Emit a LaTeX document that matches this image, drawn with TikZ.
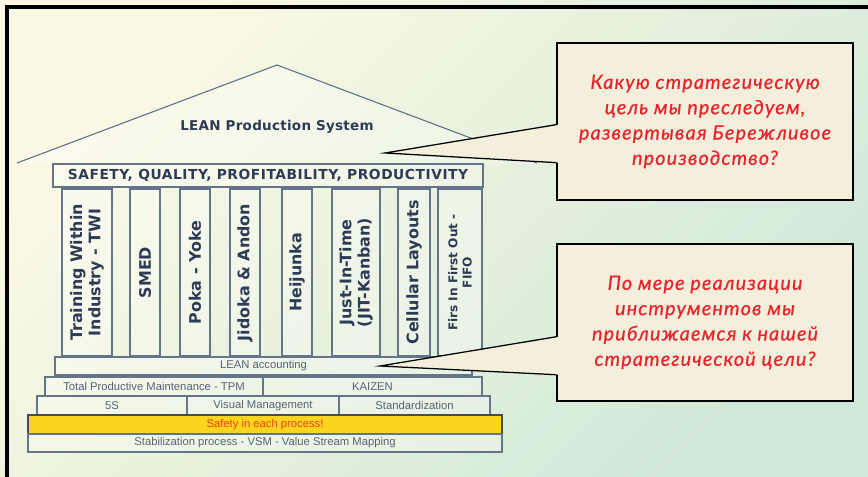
\documentclass[tikz,border=0pt]{standalone}
\usepackage{fontspec}
\setmainfont{DejaVu Sans}
\newfontfamily\rowfont{Liberation Sans}
\newfontfamily\askfont{Lato}[LetterSpace=6, FakeBold=0.6]

\usetikzlibrary{positioning,calc}

\definecolor{roofgray}{HTML}{66748A}
\definecolor{inkblue}{HTML}{2E3B55}
\definecolor{bgyellow}{HTML}{FBF9E6}
\definecolor{bgmid}{HTML}{E6F1DE}
\definecolor{bggreen}{HTML}{D0E8D7}
\definecolor{askred}{HTML}{E8232B}
\definecolor{askfill}{HTML}{F3EFDC}
\definecolor{safeyellow}{HTML}{F9D51F}
\definecolor{safered}{HTML}{F2401A}

\newcommand\pxu{0.025cm}

\begin{document}
\begin{tikzpicture}[x=0.025cm, y=-0.025cm,
	houseline/.style = { draw=roofgray, line width=0.8pt },
	tier/.style = { houseline, inner sep=0pt, outer sep=0pt,
			fill=white, fill opacity=.3, text opacity=1,
			font=\rowfont\fontsize{8}{9.5}\selectfont, text=inkblue!80 },
	pillar/.style = { houseline, rotate=90, inner sep=0pt, outer sep=0pt,
			fill=white, fill opacity=.3, text opacity=1,
			minimum width={167*\pxu}, align=center,
			font=\bfseries\fontsize{11.3}{13}\selectfont, text=inkblue },
	askbox/.style = { draw=black, fill=askfill, line width=0.9pt,
			minimum width={296*\pxu}, minimum height={157*\pxu},
			align=center, text=askred,
			font=\askfont\itshape\fontsize{14}{18}\selectfont }]

  \useasboundingbox (0,0) rectangle (868,477);
  \shade[top color=bgyellow, bottom color=bggreen, middle color=bgmid,
	 shading angle=45] (0,0) rectangle (868,477);
  \draw[line width=2.2pt] (7,480) -- (7,7) -- (872,7);

  % roof
  \coordinate (eaveL) at (17,163);
  \coordinate (apex) at (277,65);
  \coordinate (eaveR) at (537,163);
  \fill[white, opacity=.25] (eaveL) -- (apex) -- (eaveR) -- cycle;
  \draw[houseline] (eaveL) -- (apex) -- (eaveR);
  \node[name=title, font=\bfseries\fontsize{9.6}{11}\selectfont, text=inkblue]
	at (277,127) {\addfontfeature{LetterSpace=2}LEAN Production System};
  \node[name=goals, tier, minimum width={430*\pxu}, minimum height={23*\pxu},
	font=\bfseries\fontsize{9.8}{11}\selectfont, text=inkblue] at (268,175.5)
	{\addfontfeature{LetterSpace=4}SAFETY, QUALITY, PROFITABILITY, PRODUCTIVITY};

  % pillars
  \foreach \xc/\w/\txt [count=\i] in {87/50/{Training Within\\Industry - TWI},
	145/30/SMED, 195/30/Poka - Yoke, 245/30/Jidoka \& Andon,
	297/30/Heijunka, 356/48/{Just-In-Time\\(JIT-Kanban)},
	414/32/Cellular Layouts}
    \node[name=p\i, pillar, minimum height={\w*\pxu}] at (\xc,272.5) {\txt};
  \node[name=p8, pillar, minimum height={44*\pxu},
	font=\bfseries\fontsize{8.6}{10}\selectfont] at (460,272.5)
	{Firs In First Out -\\FIFO};

  % foundation
  \node[name=acct, tier, minimum width={417*\pxu}, minimum height={18*\pxu}]
	at (263.5,366) {LEAN accounting};
  \node[name=tpm, tier, minimum width={218*\pxu}, minimum height={19*\pxu}]
	at (154,386.5) {Total Productive Maintenance - TPM};
  \node[name=kaizen, tier, minimum width={219*\pxu}, minimum height={19*\pxu},
	right=0pt of tpm] {KAIZEN};
  \node[name=fives, tier, minimum width={150*\pxu}, minimum height={19*\pxu}]
	at (112,405.5) {5S};
  \node[name=visual, tier, minimum width={152*\pxu}, minimum height={19*\pxu},
	right=0pt of fives] {Visual Management};
  \node[name=std, tier, minimum width={151*\pxu}, minimum height={19*\pxu},
	right=0pt of visual] {Standardization};
  \node[name=safety, tier, fill=safeyellow, fill opacity=1, draw=black!70,
	text=safered, minimum width={474*\pxu}, minimum height={19*\pxu}]
	at (265,424.5) {Safety in each process!};
  \node[name=vsm, tier, minimum width={474*\pxu}, minimum height={18*\pxu},
	below=0pt of safety] {Stabilization process - VSM - Value Stream Mapping};

  % questions
  \node[name=ask1, askbox] at (705,121.5)
	{Какую стратегическую\\цель мы преследуем,\\развертывая Бережливое\\производство?};
  \coordinate (tip1) at (385,153);
  \fill[askfill] ($(ask1.north west)!0.52!(ask1.south west)+(2,0)$) -- (tip1)
	-- ($(ask1.north west)!0.76!(ask1.south west)+(2,0)$) -- cycle;
  \draw[line width=0.9pt] ($(ask1.north west)!0.52!(ask1.south west)$) -- (tip1)
	-- ($(ask1.north west)!0.76!(ask1.south west)$);

  \node[name=ask2, askbox] at (705,322.5)
	{По мере реализации\\инструментов мы\\приближаемся к нашей\\стратегической цели?};
  \coordinate (tip2) at (380,366);
  \fill[askfill] ($(ask2.north west)!0.59!(ask2.south west)+(2,0)$) -- (tip2)
	-- ($(ask2.north west)!0.83!(ask2.south west)+(2,0)$) -- cycle;
  \draw[line width=0.9pt] ($(ask2.north west)!0.59!(ask2.south west)$) -- (tip2)
	-- ($(ask2.north west)!0.83!(ask2.south west)$);
\end{tikzpicture}
\end{document}
